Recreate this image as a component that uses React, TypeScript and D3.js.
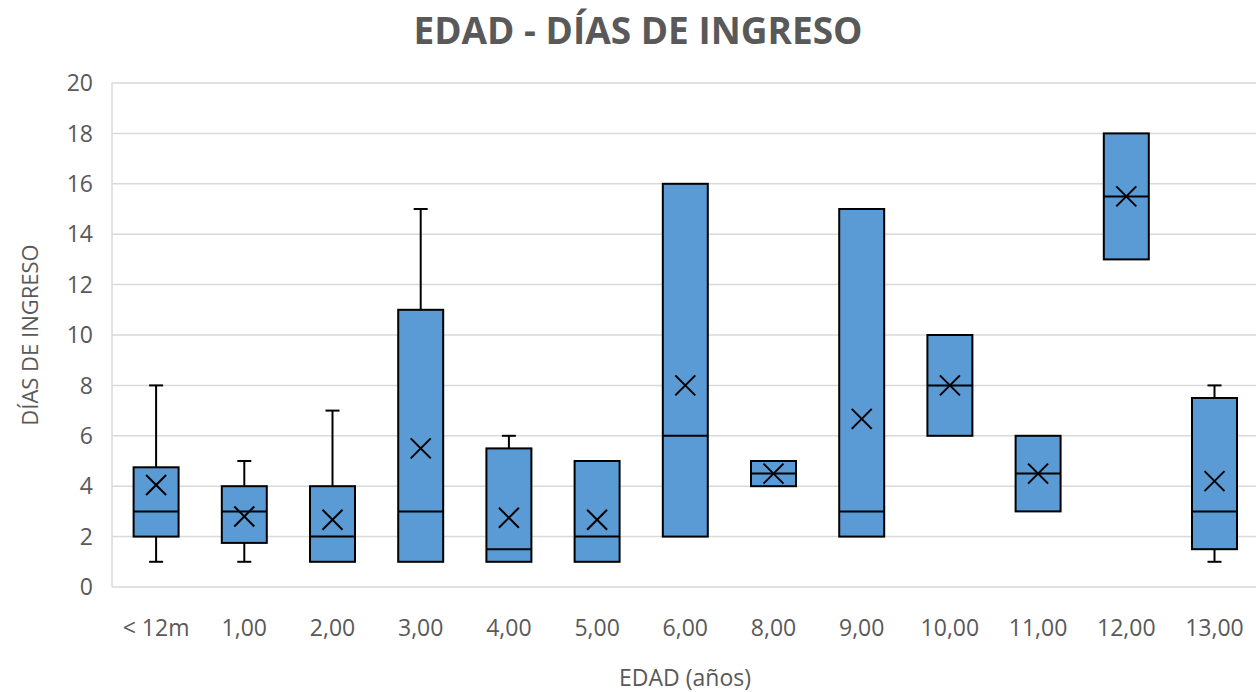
import React from "react";
import * as d3 from "d3";

// Age groups and the five-number summaries (plus mean) of days in hospital
const categories = ["< 12m", "1,00", "2,00", "3,00", "4,00", "5,00", "6,00", "8,00", "9,00", "10,00", "11,00", "12,00", "13,00"];
const minValues = [1, 1, 1, 1, 1, 1, 2, 4, 2, 6, 3, 13, 1];
const q1Values = [2, 1.75, 1, 1, 1, 1, 2, 4, 2, 6, 3, 13, 1.5];
const medianValues = [3, 3, 2, 3, 1.5, 2, 6, 4.5, 3, 8, 4.5, 15.5, 3];
const q3Values = [4.75, 4, 4, 11, 5.5, 5, 16, 5, 15, 10, 6, 18, 7.5];
const maxValues = [8, 5, 7, 15, 6, 5, 16, 5, 15, 10, 6, 18, 8];
const meanValues = [4.05, 2.8, 2.67, 5.5, 2.75, 2.67, 8, 4.5, 6.67, 8, 4.5, 15.5, 4.2];
const yTicks = [0, 2, 4, 6, 8, 10, 12, 14, 16, 18, 20];

const W = 1256;
const H = 692;
const FONT = "'Open Sans', 'Noto Sans', sans-serif";
const TEXT = "#595959";
const GRID = "#D9D9D9";
const FILL = "#5B9BD5";

export default function App() {
  const x = d3.scaleBand<string>().domain(categories).range([112, 1258.6]).padding(0);
  const y = d3.scaleLinear().domain([0, 20]).range([587, 83]);
  const bw = x.bandwidth();
  const boxW = bw * 0.51;
  const capW = 14;
  const mk = 10;

  return (
    <svg width={W} height={H} style={{ position: "fixed", left: 0, top: 0, background: "#fff" }}>
      <rect x={0} y={0} width={W} height={H} fill="#fff" />
      <text x={638} y={44} textAnchor="middle" fontFamily={FONT} fontWeight={700} fontSize={37} fill={TEXT}>
        EDAD - DÍAS DE INGRESO
      </text>

      {/* grid */}
      {yTicks.map((t) => (
        <line key={"g" + t} x1={112} x2={W} y1={y(t)} y2={y(t)} stroke={GRID} strokeWidth={1.5} />
      ))}
      <line x1={112} x2={112} y1={y(20)} y2={y(0)} stroke={GRID} strokeWidth={1.5} />

      {/* y tick labels */}
      {yTicks.map((t) => (
        <text key={"yl" + t} x={93} y={y(t)} dy="0.36em" textAnchor="end" fontFamily={FONT} fontSize={23} fill={TEXT}>
          {t}
        </text>
      ))}

      {/* x tick labels */}
      {categories.map((c) => (
        <text key={"xl" + c} x={(x(c) as number) + bw / 2} y={636} textAnchor="middle" fontFamily={FONT} fontSize={23} fill={TEXT}>
          {c}
        </text>
      ))}

      {/* boxes */}
      {categories.map((c, i) => {
        const cx = (x(c) as number) + bw / 2;
        const x0 = cx - boxW / 2;
        return (
          <g key={"b" + c} stroke="#000" strokeWidth={2} fill="none">
            {maxValues[i] > q3Values[i] && (
              <>
                <line x1={cx} x2={cx} y1={y(q3Values[i])} y2={y(maxValues[i])} />
                <line x1={cx - capW / 2} x2={cx + capW / 2} y1={y(maxValues[i])} y2={y(maxValues[i])} />
              </>
            )}
            {minValues[i] < q1Values[i] && (
              <>
                <line x1={cx} x2={cx} y1={y(q1Values[i])} y2={y(minValues[i])} />
                <line x1={cx - capW / 2} x2={cx + capW / 2} y1={y(minValues[i])} y2={y(minValues[i])} />
              </>
            )}
            <rect x={x0} y={y(q3Values[i])} width={boxW} height={y(q1Values[i]) - y(q3Values[i])} fill={FILL} />
            <line x1={x0} x2={x0 + boxW} y1={y(medianValues[i])} y2={y(medianValues[i])} />
            <g transform={`translate(${cx},${y(meanValues[i])})`}>
              <line x1={-mk} y1={-mk} x2={mk} y2={mk} />
              <line x1={-mk} y1={mk} x2={mk} y2={-mk} />
            </g>
          </g>
        );
      })}

      {/* axis titles */}
      <text x={685} y={686} textAnchor="middle" fontFamily={FONT} fontSize={23} fill={TEXT}>
        EDAD (años)
      </text>
      <text transform={`translate(38,335) rotate(-90)`} textAnchor="middle" fontFamily={FONT} fontSize={22} fill={TEXT}>
        DÍAS DE INGRESO
      </text>
    </svg>
  );
}
